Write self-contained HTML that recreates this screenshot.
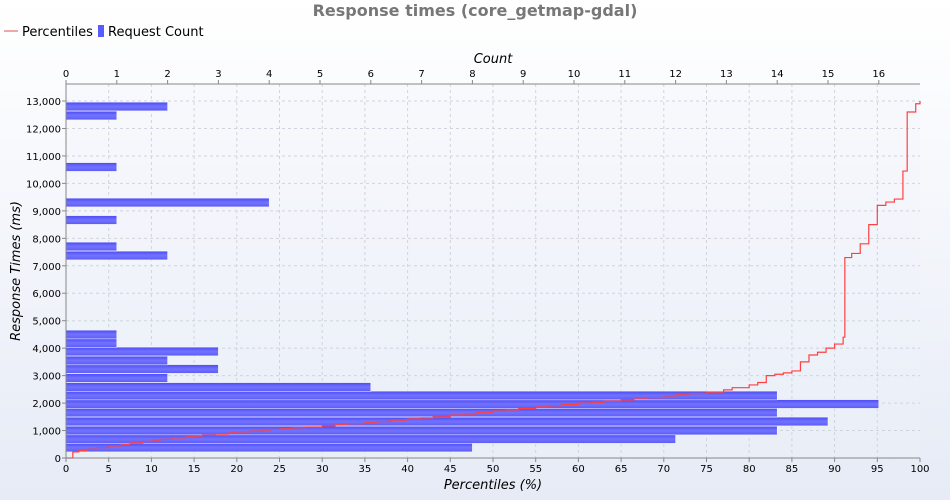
<!DOCTYPE html>
<html><head><meta charset="utf-8"><style>
html,body{margin:0;padding:0;width:950px;height:500px;overflow:hidden;font-family:"DejaVu Sans","Liberation Sans",sans-serif}
</style></head><body>
<svg id="chart" width="950" height="500" xmlns="http://www.w3.org/2000/svg">
<defs>
<linearGradient id="bg" x1="0" y1="0" x2="0" y2="1"><stop offset="0" stop-color="#ffffff"/><stop offset="1" stop-color="#e6ebf6"/></linearGradient>
<linearGradient id="pbg" x1="0" y1="0" x2="0" y2="1"><stop offset="0" stop-color="#f8f9fd"/><stop offset="1" stop-color="#e9eef7"/></linearGradient>
<linearGradient id="barg" x1="0" y1="0" x2="0" y2="1"><stop offset="0" stop-color="#4a4af5"/><stop offset="0.5" stop-color="#7373ff"/><stop offset="1" stop-color="#5c5cf8"/></linearGradient>
</defs>
<rect x="0" y="0" width="950" height="500" fill="url(#bg)"/>
<rect x="66" y="84" width="854" height="374" fill="url(#pbg)"/>
<text x="475" y="16" text-anchor="middle" font-size="16" font-weight="bold" fill="#777">Response times (core_getmap-gdal)</text>
<g>
<line x1="4" y1="31" x2="18" y2="31" stroke="#e05050" stroke-width="1"/>
<text x="22" y="36" font-size="13" fill="#000">Percentiles</text>
<rect x="98" y="25" width="6" height="12" fill="#5a5aff"/>
<text x="108" y="36" font-size="13" fill="#000">Request Count</text>
</g>
<g id="grid"></g>
<g id="bars"></g>
<g id="line"></g>
<g id="axes"></g>
<text x="493" y="63" text-anchor="middle" font-size="13" font-style="italic">Count</text>
<text x="493" y="489" text-anchor="middle" font-size="13" font-style="italic">Percentiles (%)</text>
<text transform="translate(20,271) rotate(-90)" text-anchor="middle" font-size="13" font-style="italic">Response Times (ms)</text>
</svg>
<script>
const barTimes=[382,692,1001,1329,1657,1966,2276,2586,2913,3241,3551,3878,4188,4497,7374,7702,8667,9304,10597,12472,12800];
const barCounts=[8,12,14,15,14,16,14,6,2,3,2,3,1,1,2,1,1,4,1,1,2];
const barWidthMs=320;
const pcts=[0,0.8,1.5,2.5,3.5,5,6.5,7.5,9,10,11,12.5,14,15,16,17.5,19,20,21.5,23,24,25,26.5,28,30,31.5,33,35,36.5,38,40,41.5,43,45,46.5,48,50,51.5,53,55,56.5,58,60,61.5,63,65,66.5,68,70,71.5,73,75,77,78,80,81,82,83,84,85,86,87,88,89,90,91,91.2,92,93,94,95,96,97,98,98.5,99,99.5,100];
const times=[0,220,270,320,380,440,500,550,600,650,680,730,770,800,830,870,910,950,980,1020,1040,1060,1100,1130,1170,1210,1250,1300,1330,1380,1420,1460,1500,1560,1600,1650,1710,1750,1800,1860,1900,1950,2000,2030,2070,2110,2150,2200,2260,2300,2350,2400,2480,2560,2660,2750,3000,3050,3100,3170,3500,3750,3850,4000,4150,4400,7300,7450,7800,8500,9200,9320,9430,10450,12600,12600,12900,13000];
const xTicks=[0,5,10,15,20,25,30,35,40,45,50,55,60,65,70,75,80,85,90,95,100];
const cTicks=[0,1,2,3,4,5,6,7,8,9,10,11,12,13,14,15,16];
const yTicks=[0,1000,2000,3000,4000,5000,6000,7000,8000,9000,10000,11000,12000,13000];
const NS="http://www.w3.org/2000/svg";
const L=66,R=920,T=84,B=458;
const xP=p=>L+(R-L)*p/100;
const xC=c=>L+c*50.8;
const yT=t=>B-t*0.02746;
function mk(tag,attrs,parent,text){const e=document.createElementNS(NS,tag);for(const k in attrs)e.setAttribute(k,attrs[k]);if(text!==undefined)e.textContent=text;parent.appendChild(e);return e;}
const grid=document.getElementById('grid'),axes=document.getElementById('axes'),bars=document.getElementById('bars'),line=document.getElementById('line');
xTicks.forEach(v=>{const x=xP(v);
 if(v>0&&v<100){const g=mk('line',{x1:x,y1:T,x2:x,y2:B,stroke:'#d0d4dc','stroke-dasharray':'3,3'},grid);}
 mk('line',{x1:x,y1:B,x2:x,y2:B+4,stroke:'#888'},axes);
 const t=mk('text',{x:x,y:B+14,'text-anchor':'middle','font-size':'10'},axes,String(v));
 
 });
cTicks.forEach(v=>{const x=xC(v);
 mk('line',{x1:x,y1:T-4,x2:x,y2:T,stroke:'#888'},axes);
 const t=mk('text',{x:x,y:T-7,'text-anchor':'middle','font-size':'10'},axes,String(v));
 
 });
yTicks.forEach(v=>{const y=yT(v);
 if(v>0){const g=mk('line',{x1:L,y1:y,x2:R,y2:y,stroke:'#d0d4dc','stroke-dasharray':'3,3'},grid);}
 mk('line',{x1:L-4,y1:y,x2:L,y2:y,stroke:'#888'},axes);
 const t=mk('text',{x:L-5,y:y+4,'text-anchor':'end','font-size':'10'},axes,v.toLocaleString('en-US'));
 
 });
mk('line',{x1:L,y1:T,x2:R,y2:T,stroke:'#888'},axes);
mk('line',{x1:L,y1:B,x2:R,y2:B,stroke:'#888'},axes);
mk('line',{x1:L,y1:T,x2:L,y2:B,stroke:'#888'},axes);
barTimes.forEach((t,i)=>{const y1=yT(t+barWidthMs/2),y2=yT(t-barWidthMs/2);
 const r=mk('rect',{x:L,y:y1,width:xC(barCounts[i])-L,height:y2-y1,fill:'url(#barg)',stroke:'#ffffff','stroke-width':'0.5'},bars);
 
 });
let d='';pcts.forEach((p,i)=>{const x=xP(p),y=yT(times[i]);if(i===0)d+='M'+x+','+y;else d+='H'+x+'V'+y;});
const pl=mk('path',{d:d,fill:'none',stroke:'#ff4040','stroke-width':'1.2'},line);


</script>
</body></html>
